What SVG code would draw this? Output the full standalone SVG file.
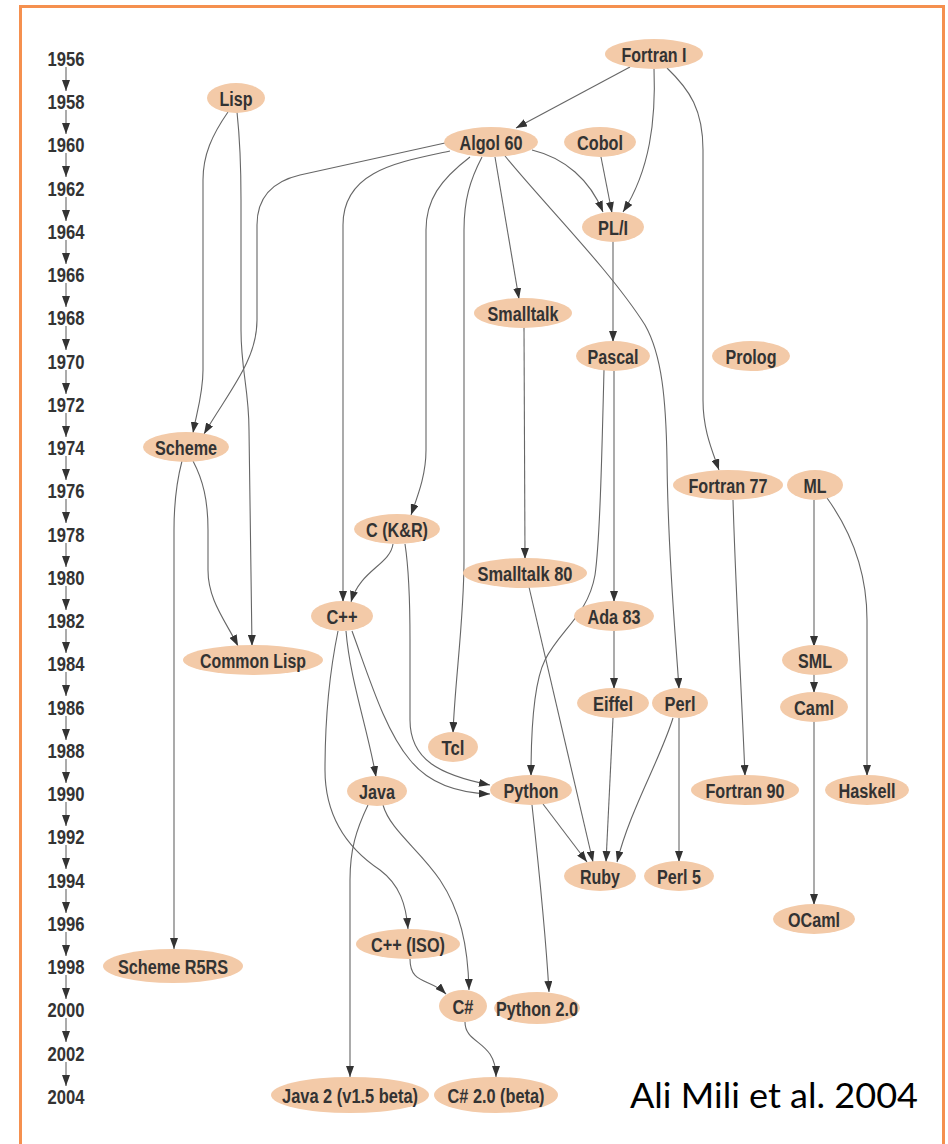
<svg xmlns="http://www.w3.org/2000/svg" width="948" height="1144" viewBox="0 0 948 1144">
  <defs>
    <marker id="ah" viewBox="0 0 11 8" refX="11" refY="4" markerWidth="11" markerHeight="8" markerUnits="userSpaceOnUse" orient="auto">
      <path d="M0,0 L11,4 L0,8 z" fill="#333"/>
    </marker>
    <style>
      .node ellipse { fill: #f3caa8; }
      .node text, .year { font-family: "Liberation Sans", Arial, sans-serif; font-weight: bold; font-size: 20px; fill: #333; text-anchor: middle; }
      .edges path { fill: none; stroke: #666; stroke-width: 1.1; marker-end: url(#ah); }
      .axis path { fill: none; stroke: #666; stroke-width: 1.1; marker-end: url(#ah); }
      .credit { font-family: Lato, "Open Sans", "Liberation Sans", sans-serif; font-size: 34px; fill: #000; }
    </style>
  </defs>

  <rect x="20.5" y="6.5" width="923" height="1150" fill="#fff" stroke="#f5904f" stroke-width="3"/>

  <!-- timeline -->
  <g id="timeline">
    <g class="axis">
      <path d="M66,67 V91"/><path d="M66,110 V134"/><path d="M66,153 V177"/><path d="M66,197 V221"/>
      <path d="M66,240 V264"/><path d="M66,283 V307"/><path d="M66,326 V350"/><path d="M66,370 V394"/>
      <path d="M66,413 V437"/><path d="M66,456 V480"/><path d="M66,499 V523"/><path d="M66,543 V567"/>
      <path d="M66,586 V610"/><path d="M66,629 V653"/><path d="M66,672 V696"/><path d="M66,716 V740"/>
      <path d="M66,759 V783"/><path d="M66,802 V826"/><path d="M66,845 V869"/><path d="M66,889 V913"/>
      <path d="M66,932 V956"/><path d="M66,975 V999"/><path d="M66,1018 V1042"/><path d="M66,1062 V1086"/>
    </g>
    <text class="year" x="66" y="65.5" textLength="37" lengthAdjust="spacingAndGlyphs">1956</text>
    <text class="year" x="66" y="108.5" textLength="37" lengthAdjust="spacingAndGlyphs">1958</text>
    <text class="year" x="66" y="151.5" textLength="37" lengthAdjust="spacingAndGlyphs">1960</text>
    <text class="year" x="66" y="195.5" textLength="37" lengthAdjust="spacingAndGlyphs">1962</text>
    <text class="year" x="66" y="238.5" textLength="37" lengthAdjust="spacingAndGlyphs">1964</text>
    <text class="year" x="66" y="281.5" textLength="37" lengthAdjust="spacingAndGlyphs">1966</text>
    <text class="year" x="66" y="324.5" textLength="37" lengthAdjust="spacingAndGlyphs">1968</text>
    <text class="year" x="66" y="368.5" textLength="37" lengthAdjust="spacingAndGlyphs">1970</text>
    <text class="year" x="66" y="411.5" textLength="37" lengthAdjust="spacingAndGlyphs">1972</text>
    <text class="year" x="66" y="454.5" textLength="37" lengthAdjust="spacingAndGlyphs">1974</text>
    <text class="year" x="66" y="497.5" textLength="37" lengthAdjust="spacingAndGlyphs">1976</text>
    <text class="year" x="66" y="541.5" textLength="37" lengthAdjust="spacingAndGlyphs">1978</text>
    <text class="year" x="66" y="584.5" textLength="37" lengthAdjust="spacingAndGlyphs">1980</text>
    <text class="year" x="66" y="627.5" textLength="37" lengthAdjust="spacingAndGlyphs">1982</text>
    <text class="year" x="66" y="670.5" textLength="37" lengthAdjust="spacingAndGlyphs">1984</text>
    <text class="year" x="66" y="714.5" textLength="37" lengthAdjust="spacingAndGlyphs">1986</text>
    <text class="year" x="66" y="757.5" textLength="37" lengthAdjust="spacingAndGlyphs">1988</text>
    <text class="year" x="66" y="800.5" textLength="37" lengthAdjust="spacingAndGlyphs">1990</text>
    <text class="year" x="66" y="843.5" textLength="37" lengthAdjust="spacingAndGlyphs">1992</text>
    <text class="year" x="66" y="887.5" textLength="37" lengthAdjust="spacingAndGlyphs">1994</text>
    <text class="year" x="66" y="930.5" textLength="37" lengthAdjust="spacingAndGlyphs">1996</text>
    <text class="year" x="66" y="973.5" textLength="37" lengthAdjust="spacingAndGlyphs">1998</text>
    <text class="year" x="66" y="1016.5" textLength="37" lengthAdjust="spacingAndGlyphs">2000</text>
    <text class="year" x="66" y="1060.5" textLength="37" lengthAdjust="spacingAndGlyphs">2002</text>
    <text class="year" x="66" y="1103.5" textLength="37" lengthAdjust="spacingAndGlyphs">2004</text>
  </g>

  <!-- language influence connectors -->
  <g class="edges" id="connectors">
    <path d="M630,67 L516,128"/>
    <path d="M654,68 C656,120 650,170 623,212"/>
    <path d="M667,68 C690,90 703,110 703,150 L703,400 C703,430 712,450 719,470"/>
    <path d="M228,112 C212,135 203,155 203,180 L203,370 C203,395 196,415 193,433"/>
    <path d="M237,112 C240,140 241,160 241,200 L241,330 C241,370 249,390 249,430 L252,646"/>
    <path d="M445,143 L300,175 C270,182 257,200 257,225 L257,320 C257,360 230,390 204,434"/>
    <path d="M450,151 C400,162 343,170 343,225 L343,602"/>
    <path d="M470,157 C440,180 426,200 426,230 L426,450 C426,475 418,495 411,515"/>
    <path d="M482,157 C470,180 464,200 464,230 L464,560 C464,620 455,680 453,733"/>
    <path d="M495,157 L519,299"/>
    <path d="M505,156 C545,205 610,270 645,325 C662,355 666,400 667,460 C668,560 676,640 679,689"/>
    <path d="M532,150 C565,158 590,180 603,212"/>
    <path d="M601,157 L612,213"/>
    <path d="M613,241 L613,342"/>
    <path d="M604,370 C602,450 600,540 595,575 C588,615 560,630 545,660 C535,680 531,720 531,776"/>
    <path d="M614,371 L614,602"/>
    <path d="M524,327 L525,559"/>
    <path d="M529,587 L593,862"/>
    <path d="M393,544 C390,565 360,570 351,602"/>
    <path d="M405,544 C409,570 410,600 410,640 L410,720 C410,760 440,775 490,785"/>
    <path d="M352,631 C370,680 385,730 410,760 C430,785 460,793 490,794"/>
    <path d="M346,631 C350,680 368,730 376,777"/>
    <path d="M338,631 C330,670 325,720 325,770 C325,820 350,850 380,870 C400,885 406,905 408,929"/>
    <path d="M182,461 C177,480 174,500 174,530 L174,949"/>
    <path d="M193,461 C203,480 208,500 208,530 L208,570 C208,600 225,620 238,646"/>
    <path d="M614,631 L614,689"/>
    <path d="M613,718 L606,862"/>
    <path d="M673,718 C660,760 630,810 617,862"/>
    <path d="M679,718 L679,862"/>
    <path d="M543,804 L587,862"/>
    <path d="M532,805 C538,860 546,940 549,992"/>
    <path d="M368,805 C356,830 350,850 350,880 L350,1077"/>
    <path d="M383,805 C390,830 420,850 440,880 C460,910 468,945 469,990"/>
    <path d="M410,959 C410,985 430,978 446,994"/>
    <path d="M465,1022 C465,1045 496,1040 496,1077"/>
    <path d="M733,500 C736,600 742,700 745,776"/>
    <path d="M814,500 L814,647"/>
    <path d="M827,498 C850,530 867,570 867,620 L867,776"/>
    <path d="M814,674 L814,693"/>
    <path d="M814,721 L814,905"/>
  </g>

  <!-- language nodes -->
  <g class="node" id="fortran1"><ellipse cx="654" cy="54" rx="49" ry="15"/><text x="654" y="61.5" textLength="65" lengthAdjust="spacingAndGlyphs">Fortran I</text></g>
  <g class="node" id="lisp"><ellipse cx="236" cy="98" rx="29" ry="15"/><text x="236" y="105.5" textLength="33" lengthAdjust="spacingAndGlyphs">Lisp</text></g>
  <g class="node" id="algol60"><ellipse cx="491" cy="142" rx="47" ry="15"/><text x="491" y="149.5" textLength="63" lengthAdjust="spacingAndGlyphs">Algol 60</text></g>
  <g class="node" id="cobol"><ellipse cx="600" cy="142" rx="36" ry="15"/><text x="600" y="149.5" textLength="46" lengthAdjust="spacingAndGlyphs">Cobol</text></g>
  <g class="node" id="pl1"><ellipse cx="613" cy="227" rx="31" ry="15"/><text x="613" y="234.5" textLength="30" lengthAdjust="spacingAndGlyphs">PL/I</text></g>
  <g class="node" id="smalltalk"><ellipse cx="523" cy="313" rx="49" ry="15"/><text x="523" y="320.5" textLength="71" lengthAdjust="spacingAndGlyphs">Smalltalk</text></g>
  <g class="node" id="pascal"><ellipse cx="613" cy="356" rx="37" ry="15"/><text x="613" y="363.5" textLength="51" lengthAdjust="spacingAndGlyphs">Pascal</text></g>
  <g class="node" id="prolog"><ellipse cx="751" cy="356" rx="39" ry="15"/><text x="751" y="363.5" textLength="51" lengthAdjust="spacingAndGlyphs">Prolog</text></g>
  <g class="node" id="scheme"><ellipse cx="186" cy="447" rx="43" ry="15"/><text x="186" y="454.5" textLength="62" lengthAdjust="spacingAndGlyphs">Scheme</text></g>
  <g class="node" id="fortran77"><ellipse cx="728" cy="485" rx="55" ry="15"/><text x="728" y="492.5" textLength="79" lengthAdjust="spacingAndGlyphs">Fortran 77</text></g>
  <g class="node" id="ml"><ellipse cx="815" cy="485" rx="28" ry="15"/><text x="815" y="492.5" textLength="23" lengthAdjust="spacingAndGlyphs">ML</text></g>
  <g class="node" id="ckr"><ellipse cx="397" cy="529" rx="43" ry="15"/><text x="397" y="536.5" textLength="62" lengthAdjust="spacingAndGlyphs">C (K&amp;R)</text></g>
  <g class="node" id="smalltalk80"><ellipse cx="525" cy="573" rx="62" ry="15"/><text x="525" y="580.5" textLength="95" lengthAdjust="spacingAndGlyphs">Smalltalk 80</text></g>
  <g class="node" id="cpp"><ellipse cx="342" cy="616" rx="31" ry="15"/><text x="342" y="623.5" textLength="31" lengthAdjust="spacingAndGlyphs">C++</text></g>
  <g class="node" id="ada83"><ellipse cx="614" cy="616" rx="40" ry="15"/><text x="614" y="623.5" textLength="53" lengthAdjust="spacingAndGlyphs">Ada 83</text></g>
  <g class="node" id="commonlisp"><ellipse cx="253" cy="660" rx="70" ry="15"/><text x="253" y="667.5" textLength="106" lengthAdjust="spacingAndGlyphs">Common Lisp</text></g>
  <g class="node" id="sml"><ellipse cx="815" cy="660" rx="33" ry="15"/><text x="815" y="667.5" textLength="34" lengthAdjust="spacingAndGlyphs">SML</text></g>
  <g class="node" id="eiffel"><ellipse cx="613" cy="703" rx="36" ry="15"/><text x="613" y="710.5" textLength="40" lengthAdjust="spacingAndGlyphs">Eiffel</text></g>
  <g class="node" id="perl"><ellipse cx="680" cy="703" rx="28" ry="15"/><text x="680" y="710.5" textLength="31" lengthAdjust="spacingAndGlyphs">Perl</text></g>
  <g class="node" id="caml"><ellipse cx="814" cy="707" rx="34" ry="15"/><text x="814" y="714.5" textLength="40" lengthAdjust="spacingAndGlyphs">Caml</text></g>
  <g class="node" id="tcl"><ellipse cx="453" cy="747" rx="25" ry="15"/><text x="453" y="754.5" textLength="23" lengthAdjust="spacingAndGlyphs">Tcl</text></g>
  <g class="node" id="java"><ellipse cx="377" cy="791" rx="30" ry="15"/><text x="377" y="798.5" textLength="36" lengthAdjust="spacingAndGlyphs">Java</text></g>
  <g class="node" id="python"><ellipse cx="531" cy="790" rx="41" ry="15"/><text x="531" y="797.5" textLength="55" lengthAdjust="spacingAndGlyphs">Python</text></g>
  <g class="node" id="fortran90"><ellipse cx="745" cy="790" rx="54" ry="15"/><text x="745" y="797.5" textLength="79" lengthAdjust="spacingAndGlyphs">Fortran 90</text></g>
  <g class="node" id="haskell"><ellipse cx="867" cy="790" rx="42" ry="15"/><text x="867" y="797.5" textLength="57" lengthAdjust="spacingAndGlyphs">Haskell</text></g>
  <g class="node" id="ruby"><ellipse cx="600" cy="876" rx="36" ry="15"/><text x="600" y="883.5" textLength="40" lengthAdjust="spacingAndGlyphs">Ruby</text></g>
  <g class="node" id="perl5"><ellipse cx="679" cy="876" rx="35" ry="15"/><text x="679" y="883.5" textLength="44" lengthAdjust="spacingAndGlyphs">Perl 5</text></g>
  <g class="node" id="ocaml"><ellipse cx="814" cy="919" rx="41" ry="15"/><text x="814" y="926.5" textLength="52" lengthAdjust="spacingAndGlyphs">OCaml</text></g>
  <g class="node" id="cppiso"><ellipse cx="408" cy="944" rx="52" ry="15"/><text x="408" y="951.5" textLength="74" lengthAdjust="spacingAndGlyphs">C++ (ISO)</text></g>
  <g class="node" id="schemer5rs"><ellipse cx="173" cy="966" rx="70" ry="17"/><text x="173" y="973.5" textLength="110" lengthAdjust="spacingAndGlyphs">Scheme R5RS</text></g>
  <g class="node" id="csharp"><ellipse cx="463" cy="1006" rx="24" ry="16"/><text x="463" y="1013.5" textLength="21" lengthAdjust="spacingAndGlyphs">C#</text></g>
  <g class="node" id="python20"><ellipse cx="537" cy="1008" rx="43" ry="16"/><text x="537" y="1015.5" textLength="82" lengthAdjust="spacingAndGlyphs">Python 2.0</text></g>
  <g class="node" id="java2"><ellipse cx="350" cy="1095" rx="79" ry="18"/><text x="350" y="1102.5" textLength="136" lengthAdjust="spacingAndGlyphs">Java 2 (v1.5 beta)</text></g>
  <g class="node" id="csharp20"><ellipse cx="496" cy="1095" rx="62" ry="18"/><text x="496" y="1102.5" textLength="97" lengthAdjust="spacingAndGlyphs">C# 2.0 (beta)</text></g>

  <text class="credit" x="630" y="1108" textLength="288" lengthAdjust="spacingAndGlyphs">Ali Mili et al. 2004</text>
</svg>
